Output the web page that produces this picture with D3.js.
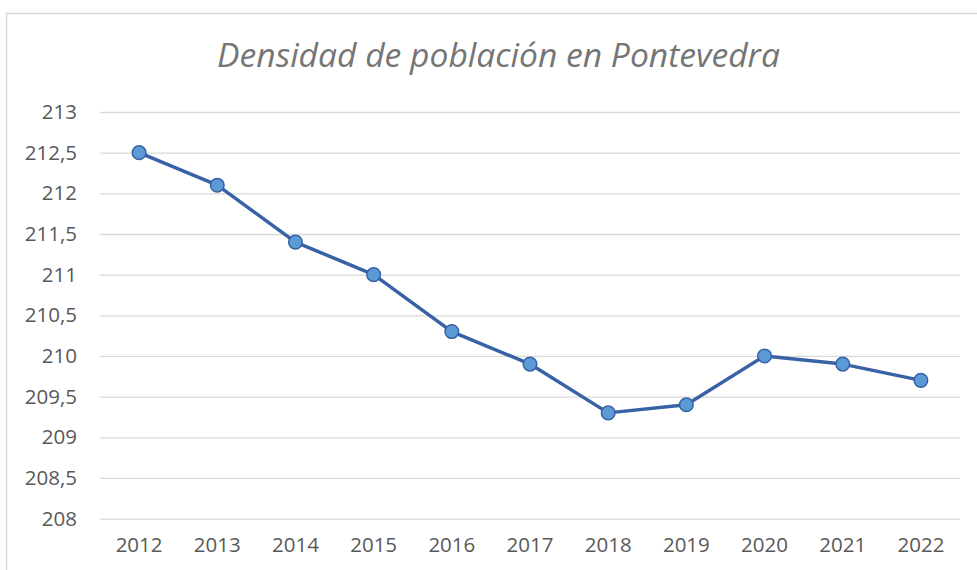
<!DOCTYPE html>
<html>
<head>
<meta charset="utf-8">
<script src="https://cdn.jsdelivr.net/npm/d3@7"></script>
<style>
  html, body { margin: 0; padding: 0; background: #fff; }
  svg { display: block; }
</style>
</head>
<body>
<svg id="chart" width="977" height="570"></svg>
<script>
const years = ["2012","2013","2014","2015","2016","2017","2018","2019","2020","2021","2022"];
const density = [212.5, 212.1, 211.4, 211.0, 210.3, 209.9, 209.3, 209.4, 210.0, 209.9, 209.7];
const yTicks = [208, 208.5, 209, 209.5, 210, 210.5, 211, 211.5, 212, 212.5, 213];
const title = "Densidad de población en Pontevedra";

const svg = d3.select("#chart");
const plot = { left: 100, right: 960, top: 112, bottom: 518.6 };

// chart border
svg.append("rect")
  .attr("x", 6.5).attr("y", 13.5)
  .attr("width", 1000).attr("height", 1000)
  .attr("fill", "#fff").attr("stroke", "#d9d9d9").attr("stroke-width", 1.5);

const x = d3.scaleBand().domain(years).range([plot.left, plot.right]);
const y = d3.scaleLinear().domain([208, 213]).range([plot.bottom, plot.top]);

// gridlines via axis
const grid = svg.append("g")
  .attr("transform", `translate(${plot.left},0)`)
  .call(d3.axisLeft(y).tickValues(yTicks).tickSize(-(plot.right - plot.left)).tickFormat(""));
grid.select(".domain").remove();
grid.selectAll("line").attr("stroke", "#d9d9d9").attr("stroke-width", 1.3);

const fmt = d => d3.format("")(d).replace(".", ",");

// y axis labels
const yAx = svg.append("g")
  .attr("transform", `translate(${plot.left},0)`)
  .call(d3.axisLeft(y).tickValues(yTicks).tickSize(0).tickPadding(23).tickFormat(fmt));
yAx.select(".domain").remove();
yAx.selectAll("text")
  .attr("font-family", "'Open Sans', sans-serif")
  .attr("font-size", 20.5)
  .attr("fill", "#595959");

// x axis labels
const xAx = svg.append("g")
  .attr("transform", `translate(0,${plot.bottom})`)
  .call(d3.axisBottom(x).tickSize(0).tickPadding(19));
xAx.select(".domain").remove();
xAx.selectAll("text")
  .attr("font-family", "'Open Sans', sans-serif")
  .attr("font-size", 20.5)
  .attr("fill", "#595959");

// line
const line = d3.line()
  .x((d, i) => x(years[i]) + x.bandwidth() / 2)
  .y(d => y(d));
svg.append("path")
  .datum(density)
  .attr("d", line)
  .attr("fill", "none")
  .attr("stroke", "#3862A6")
  .attr("stroke-width", 3.5)
  .attr("stroke-linejoin", "round");

// markers
svg.selectAll("circle.pt")
  .data(density)
  .join("circle")
  .attr("class", "pt")
  .attr("cx", (d, i) => x(years[i]) + x.bandwidth() / 2)
  .attr("cy", d => y(d))
  .attr("r", 6.8)
  .attr("fill", "#5B9BD5")
  .attr("stroke", "#3862A6")
  .attr("stroke-width", 1.5);

// title
const t = svg.append("text")
  .attr("x", 498.5).attr("y", 67)
  .attr("text-anchor", "middle")
  .attr("font-family", "'Open Sans', sans-serif")
  .attr("font-style", "italic")
  .attr("font-size", 30)
  .attr("fill", "#757575")
  .text(title);
const tw = t.node().getComputedTextLength();
t.attr("font-size", 30 * 563 / tw);
</script>
</body>
</html>
